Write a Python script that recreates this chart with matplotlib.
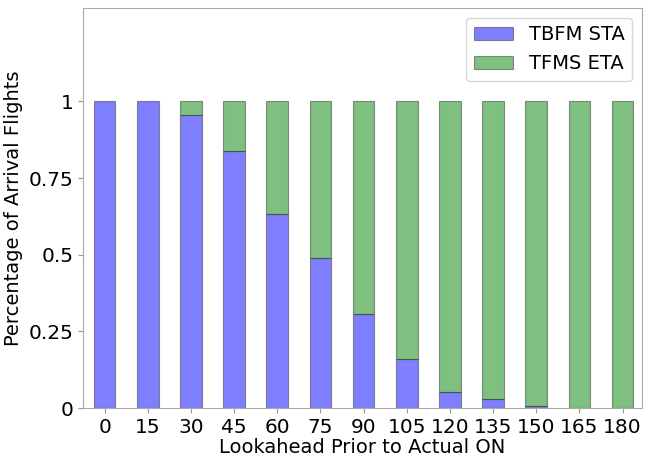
import matplotlib
matplotlib.use('Agg')
import matplotlib.pyplot as plt
import numpy as np
import pandas as pd

# данные
lookahead = [0, 15, 30, 45, 60, 75, 90, 105, 120, 135, 150, 165, 180]
tbfm_sta = [1.0, 1.0, 0.957, 0.837, 0.634, 0.489, 0.308, 0.161, 0.052, 0.029, 0.006, 0.0, 0.0]
tfms_eta = [1 - v for v in tbfm_sta]

df = pd.DataFrame({'TBFM STA': tbfm_sta, 'TFMS ETA': tfms_eta}, index=lookahead)

fig = plt.figure(figsize=(6.51, 4.58), dpi=100)
ax = fig.add_axes([83 / 651, 1 - 408 / 458, 559 / 651, 400 / 458])
df.plot(kind='bar', stacked=True, ax=ax, color=['blue', 'green'], alpha=0.5,
        edgecolor='#333333', linewidth=0.8, width=0.5, rot=0)

ax.set_ylim(0, 1.305)
ax.set_xlim(-0.5, 12.45)
ax.set_yticks([0, 0.25, 0.5, 0.75, 1])
ax.set_yticklabels(['0', '0.25', '0.5', '0.75', '1'])
ax.tick_params(labelsize=14.5, color='#999999')
ax.set_xlabel('Lookahead Prior to Actual ON', fontsize=14, labelpad=1)
ax.set_ylabel('Percentage of Arrival Flights', fontsize=14, labelpad=4)
for sp in ax.spines.values():
    sp.set_color('#aaaaaa')
ax.legend(fontsize=14, loc='upper right')

fig.savefig('out.png', dpi=100)
